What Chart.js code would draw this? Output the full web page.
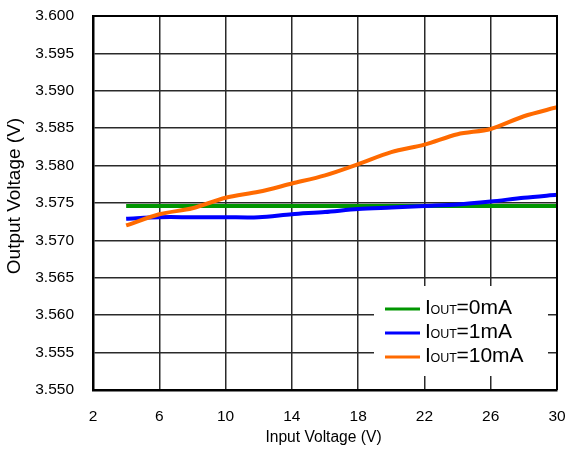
<!DOCTYPE html>
<html>
<head>
<meta charset="utf-8">
<script src="https://cdn.jsdelivr.net/npm/chart.js@4"></script>
<style>
html,body{margin:0;padding:0;background:#fff;}
#wrap{width:567px;height:450px;position:relative;}
</style>
</head>
<body>
<div id="wrap"><canvas id="c" width="567" height="450"></canvas></div>
<script>
const inputVoltage = [4, 6, 8, 10, 12, 14, 16, 18, 20, 22, 24, 26, 28, 30];
const out0mA  = [3.5746, 3.5746, 3.5746, 3.5746, 3.5746, 3.5746, 3.5746, 3.5746, 3.5746, 3.5746, 3.5746, 3.5746, 3.5746, 3.5746];
const out1mA  = [3.5729, 3.5731, 3.5731, 3.5731, 3.5731, 3.5735, 3.5738, 3.5742, 3.5744, 3.5746, 3.5748, 3.5752, 3.5757, 3.5761];
const out10mA = [3.5720, 3.5735, 3.5743, 3.5757, 3.5765, 3.5776, 3.5787, 3.5802, 3.5818, 3.5828, 3.5842, 3.5849, 3.5866, 3.5878];
const seriesNames = ['0mA', '1mA', '10mA'];
const seriesColors = ['#009600', '#0000ff', '#ff6a00'];
const xTicks = [2, 6, 10, 14, 18, 22, 26, 30];
const yMin = 3.550, yMax = 3.600, yStep = 0.005;
const xTitle = 'Input Voltage (V)';
const yTitle = 'Output Voltage (V)';

function pts(ys){ return inputVoltage.map((x,i)=>({x:x,y:ys[i]})); }
const allSeries = [out0mA, out1mA, out10mA];
const FONT = '"Liberation Sans", Arial, sans-serif';

const legendPlugin = {
  id: 'subLegend',
  afterDraw(chart){
    const ctx = chart.ctx;
    ctx.save();
    ctx.fillStyle = '#fff';
    ctx.fillRect(374, 286, 174, 90);
    const rows = [309, 333, 357];
    for (let i = 0; i < 3; i++){
      const y = rows[i];
      ctx.strokeStyle = seriesColors[i];
      ctx.lineWidth = 3;
      ctx.beginPath(); ctx.moveTo(385, y); ctx.lineTo(420, y); ctx.stroke();
      ctx.fillStyle = '#000';
      ctx.textBaseline = 'alphabetic';
      ctx.textAlign = 'left';
      ctx.font = '21px ' + FONT;
      ctx.fillText('I', 425, y + 5);
      ctx.font = '12.5px ' + FONT;
      ctx.fillText('OUT', 430.5, y + 5);
      ctx.font = '21px ' + FONT;
      ctx.fillText('=' + seriesNames[i], 456.5, y + 5);
    }
    ctx.restore();
  }
};

const titlesPlugin = {
  id: 'titles',
  afterDraw(chart){
    const ctx = chart.ctx;
    ctx.save();
    ctx.fillStyle = '#000';
    ctx.textAlign = 'center';
    ctx.textBaseline = 'middle';
    ctx.font = '15.6px ' + FONT;
    ctx.fillText(xTitle, 323.5, 438);
    ctx.translate(15, 196);
    ctx.rotate(-Math.PI / 2);
    ctx.font = '19px ' + FONT;
    ctx.fillText(yTitle, 0, 0);
    ctx.restore();
  }
};

const framePlugin = {
  id: 'frame',
  afterDraw(chart){
    const a = chart.chartArea, ctx = chart.ctx;
    ctx.save(); ctx.strokeStyle = '#000'; ctx.lineWidth = 2;
    ctx.beginPath(); ctx.moveTo(a.left, a.top); ctx.lineTo(a.right, a.top); ctx.lineTo(a.right, a.bottom); ctx.stroke();
    ctx.restore();
  }
};

function zeroPad(s){ s.paddingTop = 0; s.paddingBottom = 0; s.paddingLeft = 0; s.paddingRight = 0; }

const gridColor = '#2a2a2a';
new Chart(document.getElementById('c'), {
  type: 'line',
  data: {
    datasets: allSeries.map((s, i) => ({
      label: 'IOUT=' + seriesNames[i],
      data: pts(s),
      borderColor: seriesColors[i],
      backgroundColor: seriesColors[i],
      borderWidth: 4,
      pointRadius: 0,
      tension: 0.3,
      fill: false,
      order: 3 - i
    }))
  },
  options: {
    responsive: false,
    animation: false,
    layout: { padding: { left: 0, right: 10, top: 16, bottom: 0 } },
    plugins: { legend: { display: false }, tooltip: { enabled: false } },
    scales: {
      x: {
        type: 'linear', min: 2, max: 30,
        afterBuildTicks(s){ s.ticks = xTicks.map(v => ({value: v})); },
        afterFit(s){ s.height = 60; zeroPad(s); },
        grid: { color: gridColor, lineWidth: 1.5, drawTicks: false },
        border: { color: '#000', width: 2.5 },
        ticks: { color: '#000', padding: 17, font: { family: FONT, size: 15.5 } }
      },
      y: {
        type: 'linear', min: yMin, max: yMax,
        ticks: { stepSize: yStep, color: '#000', padding: 19, callback: v => v.toFixed(3), font: { family: FONT, size: 15.5 } },
        afterFit(s){ s.width = 93; zeroPad(s); },
        grid: { color: gridColor, lineWidth: 1.5, drawTicks: false },
        border: { color: '#000', width: 2.5 }
      }
    }
  },
  plugins: [legendPlugin, titlesPlugin, framePlugin]
});
</script>
</body>
</html>
